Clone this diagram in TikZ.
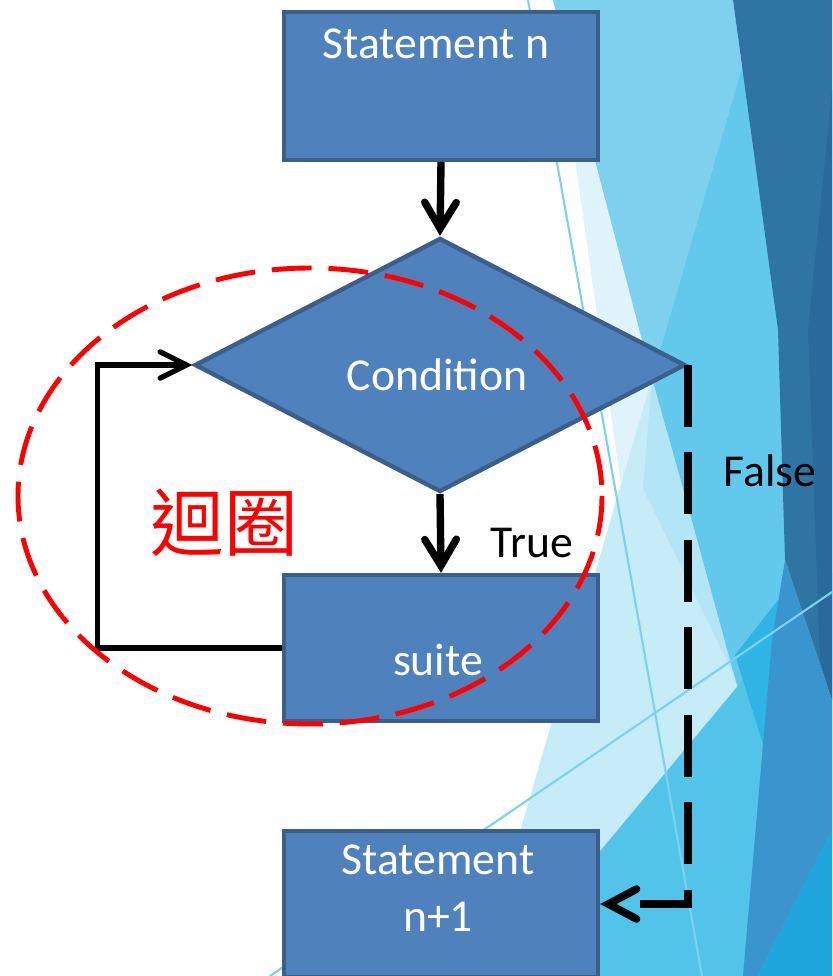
\documentclass[tikz,border=0pt]{standalone}
\usepackage{fontspec}
\setmainfont{Carlito}
\newfontfamily\cjkfont{Noto Sans CJK TC}
\usetikzlibrary{arrows.meta,shapes.geometric}
\definecolor{boxfill}{HTML}{4F81BD}
\definecolor{boxline}{HTML}{3A5F8B}
\definecolor{bgpale}{HTML}{C6ECF8}
\definecolor{bgpaler}{HTML}{DFF3FA}
\definecolor{bgpalemid}{HTML}{B2E5F5}
\definecolor{bglight}{HTML}{7DD0EE}
\definecolor{bgmid}{HTML}{63C9EC}
\definecolor{bglowmid}{HTML}{52C4EA}
\definecolor{bgdark}{HTML}{2E75A3}
\definecolor{bgdarker}{HTML}{29699C}
\definecolor{bgsteel}{HTML}{3A94CE}
\definecolor{bgbright}{HTML}{1EA5DB}
\definecolor{bgwedge}{HTML}{2FB5E3}
\begin{document}
\begin{tikzpicture}[x=0.02cm,y=-0.02cm,
  boxnode/.style={rectangle,draw=boxline,fill=boxfill,line width=2.5pt,inner sep=0pt,minimum width=6.28cm},
  boxtext/.style={text=white,font=\fontsize{26}{31}\selectfont,inner sep=0pt,anchor=base},
  labeltext/.style={text=black,font=\fontsize{26}{31}\selectfont,inner sep=0pt,anchor=base},
  flowarrow/.style={draw=black,line width=4.2pt,-{Straight Barb[length=15pt,width=18pt,line cap=round]}},
  loopline/.style={draw=black,line width=3pt,-{Straight Barb[length=15pt,width=15pt,line cap=round]}},
  falseline/.style={draw=black,line width=4.4pt,dash pattern=on 35.1pt off 14.7pt,-{Straight Barb[length=16pt,width=17pt,line cap=round]}},
  ringline/.style={draw=red,line width=2.8pt,dash pattern=on 22.7pt off 9.6pt}]
\useasboundingbox (0,0) rectangle (832,976);
\fill[white] (0,0) rectangle (832,976);
% background facets
\fill[bgpale] (553,0) -- (621,484) -- (478,976) -- (832,976) -- (832,0) -- cycle;
\fill[bgpaler] (553,0) -- (652,378) -- (621,484) -- cycle;
\fill[bgpalemid] (652,378) -- (683,488) -- (740,688) -- (643,488) -- cycle;
\fill[bglight] (553,0) -- (733,0) -- (742,67) -- (652,378) -- cycle;
\fill[bgmid] (742,67) -- (652,378) -- (683,488) -- (730,660) -- (780,840) -- (832,840) -- (832,0) -- cycle;
\fill[bglowmid] (496,976) -- (832,573) -- (832,976) -- cycle;
\fill[bgwedge] (735,655) -- (778,600) -- (768,760) -- cycle;
\fill[bgdark] (733,0) -- (832,0) -- (832,700) -- (785,560) -- (778,330) -- cycle;
\fill[bgdarker] (832,90) -- (808,330) -- (820,660) -- (832,700) -- cycle;
\fill[bgsteel] (785,560) -- (832,700) -- (832,830) -- (758,976) -- (743,976) -- (772,640) -- cycle;
\fill[bgbright] (758,976) -- (832,830) -- (832,976) -- cycle;
\draw[bglight,line width=1.2pt] (528,0) -- (702,976);
\draw[bglight,line width=1.2pt] (270,976) -- (832,592);
% nodes
\node[boxnode,minimum height=2.96cm] (sn) at (441,86) {};
\node[diamond,draw=boxline,fill=boxfill,line width=2.5pt,inner sep=0pt,minimum width=9.82cm,minimum height=5.08cm,aspect=1.94] (cond) at (440,365) {};
\node[boxnode,minimum height=2.92cm] (suite) at (441,648) {};
\node[boxnode,minimum height=2.92cm] (sn1) at (441,904) {};
% connectors
\draw[flowarrow] (sn.south) -- (cond.north);
\draw[flowarrow] (cond.south) -- (suite.north);
\draw[loopline] (suite.west) -- ++(-184,0) |- (cond.west);
\draw[falseline] (cond.east) -- (cond.east |- sn1.east) -- (sn1.east);
% loop ring
\draw[ringline] (310,496) ellipse [x radius=292, y radius=228];
% texts
\node[boxtext] (tsn) at (436,59) {Statement n};
\node[boxtext] (tcond) at (437,390) {Condition};
\node[boxtext] (tsuite) at (438,675) {suite};
\node[boxtext] (tsn1a) at (438,874) {Statement};
\node[boxtext] (tsn1b) at (438,931) {n+1};
\node[labeltext] (ttrue) at (532,557) {True};
\node[labeltext] (tfalse) at (770,486) {False};
\node[text=red,font=\cjkfont\fontsize{42}{50}\selectfont,inner sep=0pt,anchor=base] (tloop) at (224,550) {迴圈};
\end{tikzpicture}
\end{document}
